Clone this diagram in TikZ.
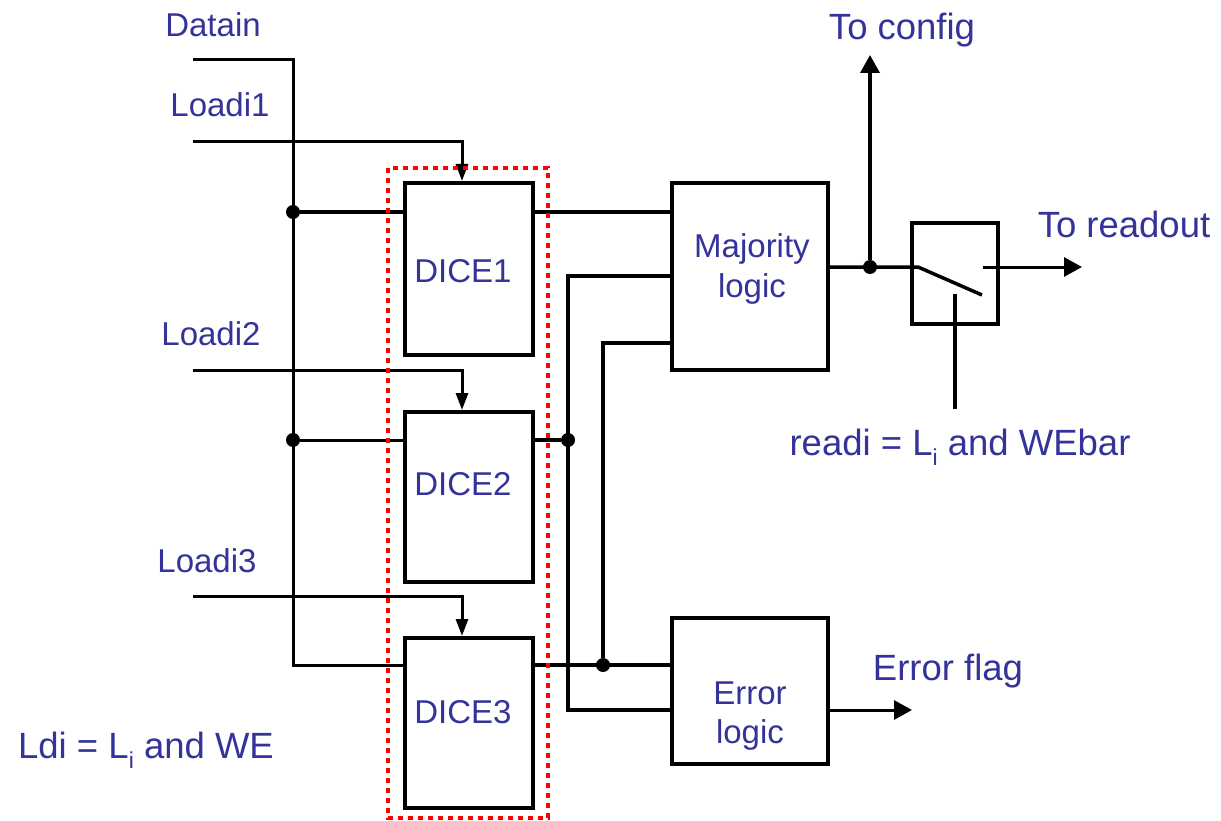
\documentclass[tikz,border=0pt]{standalone}
\usepackage{fontspec}
\setmainfont{Liberation Sans}
\usetikzlibrary{arrows.meta}
\definecolor{txt}{RGB}{51,51,153}
\definecolor{dotred}{RGB}{255,0,0}
\newcommand{\subi}{\raisebox{-0.3em}{\fontsize{23}{23}\selectfont i}}
\begin{document}
\begin{tikzpicture}[x=1pt,y=-1pt,
  blk/.style={draw,line width=4pt,inner sep=0pt,fill=white},
  wire/.style={line width=3.5pt},
  thinwire/.style={line width=3pt},
  dot/.style={circle,fill=black,inner sep=0pt,minimum size=14pt},
  small/.style={-{Triangle[length=17pt,width=12pt]}},
  big/.style={-{Triangle[length=18pt,width=19pt]}},
  lbl/.style={text=txt,anchor=base,inner sep=0pt,font=\fontsize{33}{40}\selectfont},
  lblbig/.style={text=txt,anchor=base,inner sep=0pt,font=\fontsize{36.5}{43}\selectfont}]
\useasboundingbox (0,0) rectangle (1221,821);
\fill[white] (0,0) rectangle (1221,821);

% boxes
\node[blk,minimum width=128pt,minimum height=172pt] (dice1) at (469,269) {};
\node[blk,minimum width=128pt,minimum height=170pt] (dice2) at (469,497) {};
\node[blk,minimum width=128pt,minimum height=170pt] (dice3) at (469,723) {};
\node[blk,minimum width=156pt,minimum height=187pt] (maj) at (750,276.5) {};
\node[blk,minimum width=156pt,minimum height=146pt] (err) at (750,691) {};
\node[blk,minimum width=86pt,minimum height=101pt] (sw) at (955,273.5) {};

% coordinates
\coordinate (din) at (193,60);
\coordinate (ld1) at (193,142);
\coordinate (ld2) at (193,370);
\coordinate (ld3) at (193,596);
\coordinate (jc) at (293,665);
\coordinate (c1) at (568,276);
\coordinate (c2) at (603,343);
\coordinate (c3) at (568,710);
\coordinate (sw1) at (918,267);
\coordinate (sw2) at (982,295);
\coordinate (sw3) at (983,267);
\coordinate (ctl) at (955,294);
\coordinate (ctlb) at (955,409);
\coordinate (tro) at (1082,267);
\coordinate (tcfg) at (870,55);
\coordinate (eflag) at (912,710);

\node[dot] (j1) at (293,212) {};
\node[dot] (j2) at (293,440) {};
\node[dot] (j4) at (568,440) {};
\node[dot] (j5) at (603,665) {};
\node[dot] (j6) at (870,267) {};

% input wires
\draw[thinwire] (din) -| (jc) -- (dice3.west |- jc);
\draw[wire] (j1) -- (dice1.west |- j1);
\draw[thinwire] (j2) -- (dice2.west |- j2);
\draw[thinwire,small] (ld1) -| ([xshift=-7pt]dice1.north);
\draw[thinwire,small] (ld2) -| ([xshift=-7pt]dice2.north);
\draw[thinwire,small] (ld3) -| ([xshift=-7pt]dice3.north);

% outputs
\draw[wire] (dice1.east |- j1) -- (maj.west |- j1);
\draw[wire] (dice2.east |- j2) -- (j4);
\draw[wire] (maj.west |- c1) -- (c1) -- (c3) -- (err.west |- c3);
\draw[wire] (maj.west |- c2) -- (c2) -- (j5);
\draw[wire] (dice3.east |- jc) -- (err.west |- jc);
\draw[wire] (maj.east |- j6) -- (sw1) -- (sw2);
\draw[thinwire,big] (sw3) -- (tro);
\draw[wire,big] (j6) -- (tcfg);
\draw[wire] (ctlb) -- (ctl);
\draw[thinwire,big] (err.east |- c3) -- (eflag);

% red dotted frame
\draw[dotred,line width=4.5pt,dash pattern=on 5pt off 5pt] (388,168) rectangle (548,818);

% labels
\node[lbl] at (213,37) {Datain};
\node[lbl] at (220,117) {Loadi1};
\node[lbl] at (211,345) {Loadi2};
\node[lbl] at (207,572) {Loadi3};
\node[lbl] at (463,282) {DICE1};
\node[lbl] at (463,495) {DICE2};
\node[lbl] at (463,723) {DICE3};
\node[lbl] at (752,258) {Majority};
\node[lbl] at (752,298) {logic};
\node[lbl] at (750,704) {Error};
\node[lbl] at (750,743) {logic};
\node[lblbig] at (902,40) {To config};
\node[lblbig] at (1124,237) {To readout};
\node[lblbig] at (948,680) {Error flag};
\node[lblbig] at (960,455) {readi = L\subi{} and WEbar};
\node[lblbig] at (146,758) {Ldi = L\subi{} and WE};
\end{tikzpicture}
\end{document}
